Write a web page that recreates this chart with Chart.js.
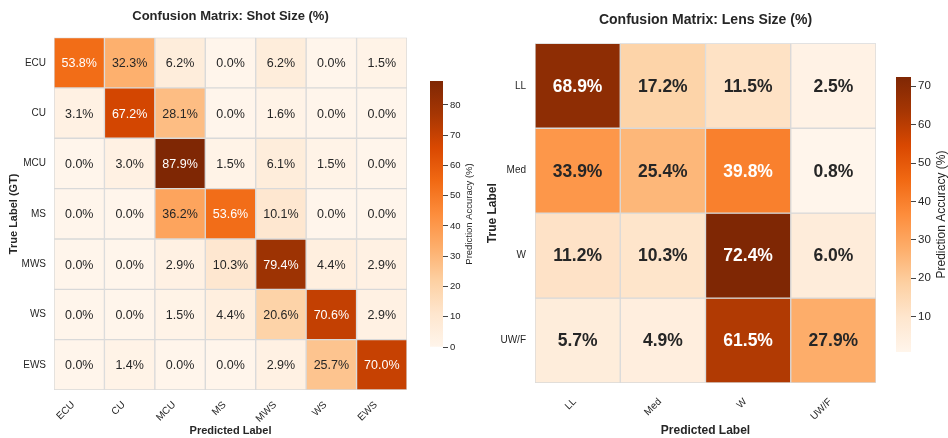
<!DOCTYPE html>
<html>
<head>
<meta charset="utf-8">
<script src="https://cdn.jsdelivr.net/npm/chart.js@4.4.0/dist/chart.umd.min.js"></script>
<style>
body { margin: 0; background: #fff; }
#wrap { position: relative; width: 948px; height: 438px; }
.box { position: absolute; top: 0; height: 438px; }
</style>
</head>
<body>
<div id="wrap">
  <div class="box" style="left:0;width:420px"><canvas id="shotChart"></canvas></div>
  <div class="box" style="left:420px;width:60px"><canvas id="shotBar"></canvas></div>
  <div class="box" style="left:480px;width:400px"><canvas id="lensChart"></canvas></div>
  <div class="box" style="left:880px;width:68px"><canvas id="lensBar"></canvas></div>
</div>
<script>
// shot size confusion matrix (rows = true label, cols = predicted)
var shotLabels = ["ECU", "CU", "MCU", "MS", "MWS", "WS", "EWS"];
var shotMatrix = [
  [53.8, 32.3, 6.2, 0.0, 6.2, 0.0, 1.5],
  [3.1, 67.2, 28.1, 0.0, 1.6, 0.0, 0.0],
  [0.0, 3.0, 87.9, 1.5, 6.1, 1.5, 0.0],
  [0.0, 0.0, 36.2, 53.6, 10.1, 0.0, 0.0],
  [0.0, 0.0, 2.9, 10.3, 79.4, 4.4, 2.9],
  [0.0, 0.0, 1.5, 4.4, 20.6, 70.6, 2.9],
  [0.0, 1.4, 0.0, 0.0, 2.9, 25.7, 70.0]
];
var shotBarTicks = [0, 10, 20, 30, 40, 50, 60, 70, 80];

// lens size confusion matrix
var lensLabels = ["LL", "Med", "W", "UW/F"];
var lensMatrix = [
  [68.9, 17.2, 11.5, 2.5],
  [33.9, 25.4, 39.8, 0.8],
  [11.2, 10.3, 72.4, 6.0],
  [5.7, 4.9, 61.5, 27.9]
];
var lensBarTicks = [10, 20, 30, 40, 50, 60, 70];

var FONT = "'Liberation Sans', Arial, Helvetica, sans-serif";
var TEXT = "#262626";
// matplotlib "Oranges"
var ORANGES = ["#fff5eb", "#fee6ce", "#fdd0a2", "#fdae6b", "#fd8d3c", "#f16913", "#d94801", "#a63603", "#7f2704"];

Chart.defaults.font.family = FONT;
Chart.defaults.color = TEXT;

function hexRgb(h) {
  return [parseInt(h.substr(1, 2), 16), parseInt(h.substr(3, 2), 16), parseInt(h.substr(5, 2), 16)];
}
function orangeRgb(t) {
  t = Math.max(0, Math.min(1, t));
  var p = t * 8, i = Math.min(7, Math.floor(p)), f = p - i;
  var a = hexRgb(ORANGES[i]), b = hexRgb(ORANGES[i + 1]);
  return [0, 1, 2].map(function(k) { return Math.round(a[k] + (b[k] - a[k]) * f); });
}
function rgbStr(c) { return "rgb(" + c[0] + "," + c[1] + "," + c[2] + ")"; }
function luminance(c) {
  var l = c.map(function(v) {
    v = v / 255;
    return v <= 0.03928 ? v / 12.92 : Math.pow((v + 0.055) / 1.055, 2.4);
  });
  return 0.2126 * l[0] + 0.7152 * l[1] + 0.0722 * l[2];
}
function minMax(m) {
  var all = [].concat.apply([], m);
  return [Math.min.apply(null, all), Math.max.apply(null, all)];
}

function cellTextPlugin(matrix, range, font) {
  return {
    id: "cellText",
    afterDatasetsDraw: function(chart) {
      var ctx = chart.ctx;
      ctx.save();
      ctx.font = font;
      ctx.textAlign = "center";
      ctx.textBaseline = "middle";
      matrix.forEach(function(row, r) {
        var meta = chart.getDatasetMeta(r);
        row.forEach(function(v, c) {
          var bar = meta.data[c];
          var col = orangeRgb((v - range[0]) / (range[1] - range[0]));
          ctx.fillStyle = luminance(col) > 0.408 ? TEXT : "#ffffff";
          ctx.fillText(v.toFixed(1) + "%", bar.x, (bar.y + bar.base) / 2 + 1);
        });
      });
      ctx.restore();
    }
  };
}

function makeHeatmap(id, labels, matrix, o) {
  var range = minMax(matrix);
  var datasets = matrix.map(function(row, r) {
    return {
      data: row.map(function() { return [r, r + 1]; }),
      backgroundColor: row.map(function(v) {
        return rgbStr(orangeRgb((v - range[0]) / (range[1] - range[0])));
      }),
      borderColor: "#d9d9d9",
      borderWidth: 1,
      borderSkipped: false,
      grouped: false,
      barPercentage: 1,
      categoryPercentage: 1
    };
  });
  new Chart(document.getElementById(id), {
    type: "bar",
    data: { labels: labels, datasets: datasets },
    plugins: [cellTextPlugin(matrix, range, o.cellFont)],
    options: {
      responsive: true,
      maintainAspectRatio: false,
      animation: false,
      layout: { padding: o.pad },
      plugins: {
        legend: { display: false },
        tooltip: { enabled: false },
        title: {
          display: true, text: o.title, fullSize: false, color: TEXT,
          font: { size: o.titleSize, weight: "bold" }, padding: o.titlePad
        }
      },
      scales: {
        x: {
          type: "category", offset: true,
          grid: { display: false, drawTicks: false }, border: { display: false },
          ticks: { minRotation: 45, maxRotation: 45, autoSkip: false, font: { size: 10 },
            padding: o.xTickPad, labelOffset: o.xLabelOffset },
          title: { display: true, text: "Predicted Label", font: { size: o.axisTitleSize, weight: "bold" }, padding: { top: 0, bottom: o.xTitlePad } },
          afterFit: function(s) { s.height = o.xHeight; }
        },
        y: {
          type: "linear", min: 0, max: labels.length, reverse: true,
          grid: { display: false, drawTicks: false }, border: { display: false },
          afterBuildTicks: function(s) {
            s.ticks = labels.map(function(_, i) { return { value: i + 0.5 }; });
          },
          ticks: { autoSkip: false, font: { size: 10 }, padding: o.yTickPad,
            callback: function(v, i) { return labels[i]; } },
          title: { display: true, text: o.yTitle, font: { size: o.axisTitleSize, weight: "bold" }, padding: { top: o.yTitlePad, bottom: 0 } },
          afterFit: function(s) { s.width = o.yWidth; }
        }
      }
    }
  });
  return range;
}

function makeColorbar(id, range, ticks, o) {
  var labelPlugin = {
    id: "cbLabel",
    afterDraw: function(chart) {
      var a = chart.chartArea, ctx = chart.ctx;
      ctx.save();
      ctx.font = o.labelSize + "px " + FONT;
      ctx.fillStyle = TEXT;
      ctx.textAlign = "center";
      ctx.textBaseline = "middle";
      ctx.translate(o.labelX, (a.top + a.bottom) / 2);
      ctx.rotate(-Math.PI / 2);
      ctx.fillText("Prediction Accuracy (%)", 0, 0);
      ctx.restore();
    }
  };
  new Chart(document.getElementById(id), {
    type: "bar",
    data: {
      labels: [""],
      datasets: [{
        data: [[range[0], range[1]]],
        backgroundColor: function(c) {
          var a = c.chart.chartArea;
          if (!a) return ORANGES[4];
          var g = c.chart.ctx.createLinearGradient(0, a.bottom, 0, a.top);
          ORANGES.forEach(function(col, i) { g.addColorStop(i / 8, col); });
          return g;
        },
        borderWidth: 0,
        barPercentage: 1,
        categoryPercentage: 1
      }]
    },
    plugins: [labelPlugin],
    options: {
      responsive: true,
      maintainAspectRatio: false,
      animation: false,
      layout: { padding: o.pad },
      plugins: { legend: { display: false }, tooltip: { enabled: false } },
      scales: {
        x: { display: false },
        y: {
          position: "right", min: range[0], max: range[1],
          border: { display: false },
          grid: { drawOnChartArea: false, drawTicks: true, tickLength: o.tickLen, color: "#444" },
          afterBuildTicks: function(s) {
            s.ticks = ticks.map(function(v) { return { value: v }; });
          },
          ticks: { font: { size: o.tickSize }, padding: 2, color: TEXT },
          afterFit: function(s) { s.width = o.width; }
        }
      }
    }
  });
}

var shotRange = makeHeatmap("shotChart", shotLabels, shotMatrix, {
  title: "Confusion Matrix: Shot Size (%)", titleSize: 13,
  titlePad: { top: 9, bottom: 13 },
  pad: { left: 0, right: 13, top: 0, bottom: 0 },
  yTitle: "True Label (GT)", axisTitleSize: 11,
  xHeight: 48, yWidth: 54, xTickPad: 9, xLabelOffset: -6, yTickPad: 8, xTitlePad: 0, yTitlePad: 7,
  cellFont: "12.5px " + FONT
});
makeColorbar("shotBar", shotRange, shotBarTicks, {
  pad: { left: 10, right: 0, top: 81, bottom: 91 },
  width: 37, tickLen: 5, tickSize: 9.5, labelSize: 9.5, labelX: 49
});

var lensRange = makeHeatmap("lensChart", lensLabels, lensMatrix, {
  title: "Confusion Matrix: Lens Size (%)", titleSize: 14,
  titlePad: { top: 11.5, bottom: 15 },
  pad: { left: 0, right: 4, top: 0, bottom: 0 },
  yTitle: "True Label", axisTitleSize: 12,
  xHeight: 55, yWidth: 55, xTickPad: 13, xLabelOffset: -3, yTickPad: 9, xTitlePad: 0, yTitlePad: 5,
  cellFont: "bold 17.5px " + FONT
});
makeColorbar("lensBar", lensRange, lensBarTicks, {
  pad: { left: 16, right: 0, top: 77, bottom: 86 },
  width: 37, tickLen: 5, tickSize: 11.5, labelSize: 12, labelX: 62
});
</script>
</body>
</html>
